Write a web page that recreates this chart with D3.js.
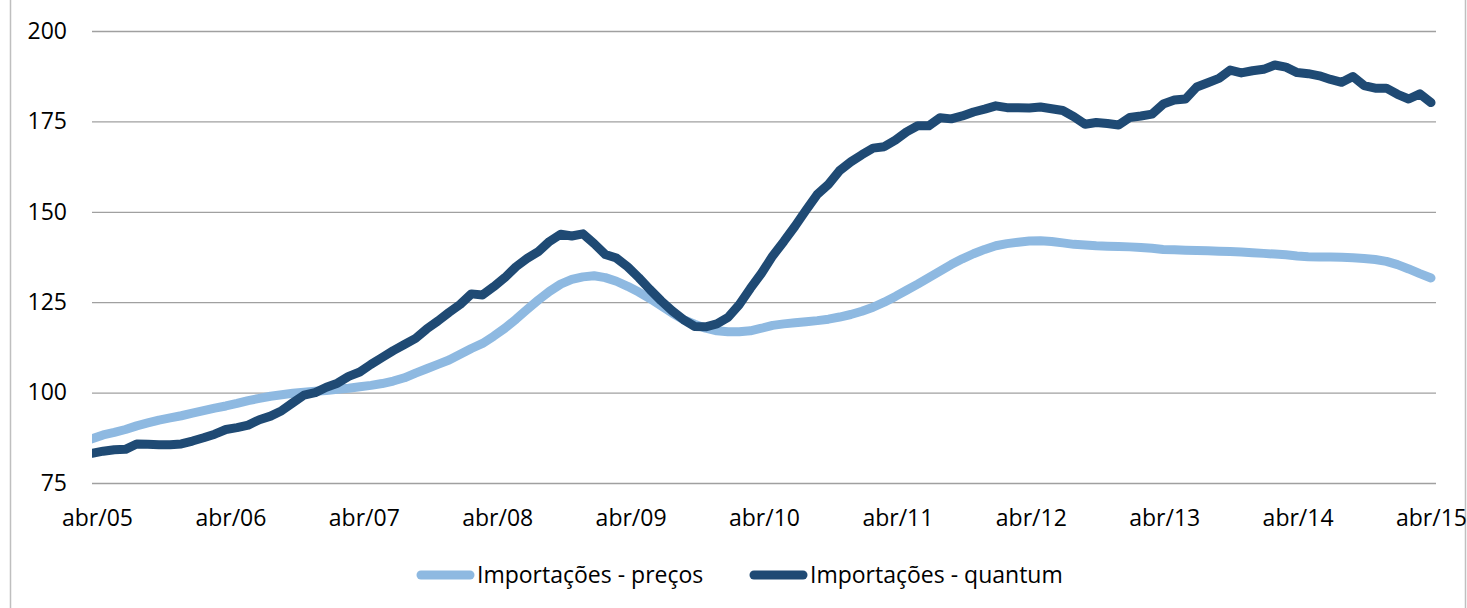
<!DOCTYPE html>
<html>
<head>
<meta charset="utf-8">
<script src="https://cdn.jsdelivr.net/npm/d3@7"></script>
<style>
    body { margin: 0; background: #fff; }
    svg text { font-family: "Open Sans", sans-serif; fill: #000; }
</style>
</head>
<body>
<svg id="chart" width="1467" height="608"></svg>
<script>
// monthly, abr/05 .. abr/15
const seriesNames = ['Importações - preços', 'Importações - quantum'];

const precos = [
    87.2, 88.3, 89.0, 89.8, 90.8, 91.6, 92.4, 93.0, 93.6, 94.3, 95.0, 95.7,
    96.3, 97.0, 97.8, 98.4, 99.0, 99.4, 99.8, 100.1, 100.4, 100.6, 100.9, 101.2,
    101.6, 102.0, 102.5, 103.2, 104.1, 105.4, 106.6, 107.8, 109.0, 110.6, 112.2, 113.6,
    115.6, 117.8, 120.3, 123.0, 125.6, 128.0, 130.0, 131.3, 132.0, 132.3, 131.8, 130.8,
    129.4, 127.8, 126.0, 124.0, 122.0, 120.2, 118.9, 117.8, 117.1, 116.8, 116.8, 117.1,
    117.8, 118.6, 119.0, 119.3, 119.6, 119.9, 120.3, 120.9, 121.6, 122.5, 123.6, 125.0,
    126.6, 128.3, 130.0, 131.8, 133.6, 135.4, 137.0, 138.4, 139.6, 140.6, 141.2, 141.6,
    141.9, 142.0, 141.8, 141.4, 141.0, 140.8, 140.6, 140.5, 140.4, 140.3, 140.1, 139.9,
    139.6, 139.5, 139.4, 139.3, 139.2, 139.1, 139.0, 138.9, 138.7, 138.5, 138.3, 138.1,
    137.8, 137.6, 137.5, 137.5, 137.4, 137.3, 137.1, 136.8, 136.3, 135.4, 134.2, 132.9,
    131.7
];

const quantum = [
    83.2, 83.8, 84.2, 84.3, 85.8, 85.7, 85.6, 85.6, 85.8, 86.6, 87.5, 88.5,
    89.8, 90.3, 91.0, 92.5, 93.5, 95.0, 97.2, 99.3, 100.0, 101.5, 102.6, 104.5,
    105.7, 107.8, 109.7, 111.6, 113.3, 115.0, 117.6, 119.8, 122.2, 124.4, 127.3, 127.0,
    129.3, 131.8, 134.8, 137.1, 139.0, 141.8, 143.8, 143.3, 143.9, 141.2, 138.2, 137.2,
    134.8, 131.8, 128.5, 125.4, 122.6, 120.2, 118.3, 118.2, 119.0, 120.8, 124.3, 128.8,
    133.0, 137.8, 141.8, 146.0, 150.5, 154.8, 157.6, 161.4, 163.8, 165.8, 167.6, 168.0,
    169.8, 172.1, 173.8, 173.8, 176.0, 175.7, 176.5, 177.6, 178.4, 179.3, 178.8, 178.8,
    178.7, 179.0, 178.5, 178.0, 176.3, 174.2, 174.7, 174.4, 174.0, 176.1, 176.5, 177.0,
    179.8, 180.9, 181.2, 184.5, 185.7, 186.9, 189.2, 188.4, 189.0, 189.4, 190.6, 190.0,
    188.5, 188.2, 187.6, 186.6, 185.8, 187.4, 184.9, 184.2, 184.2, 182.5, 181.2, 182.6,
    180.2
];

const xTickLabels = ['abr/05', 'abr/06', 'abr/07', 'abr/08', 'abr/09', 'abr/10',
    'abr/11', 'abr/12', 'abr/13', 'abr/14', 'abr/15'];
const yTicks = [75, 100, 125, 150, 175, 200];

const colors = ['#8eb9e1', '#1f4a74'];

const svg = d3.select('#chart');

const plot = {left: 92, right: 1436, top: 31, bottom: 483};

const x = d3.scaleLinear().domain([0, precos.length - 1]).range([plot.left, 1431]);
const y = d3.scaleLinear().domain([75, 200]).range([plot.bottom, plot.top]);

// outer chart border
svg.append('rect')
    .attr('x', 10.5).attr('y', -5)
    .attr('width', 1455).attr('height', 625)
    .attr('fill', 'none')
    .attr('stroke', '#bfbfbf')
    .attr('stroke-width', 1.5);

svg.append('clipPath').attr('id', 'plotclip')
    .append('rect')
    .attr('x', plot.left).attr('y', 0)
    .attr('width', plot.right - plot.left).attr('height', 600);

// gridlines + y labels
const yAxis = d3.axisLeft(y)
    .tickValues(yTicks)
    .tickSize(-(plot.right - plot.left))
    .tickPadding(25)
    .tickFormat(d3.format('d'));

const gy = svg.append('g')
    .attr('transform', `translate(${plot.left},0)`)
    .call(yAxis);
gy.select('.domain').remove();
gy.selectAll('.tick line').attr('stroke', '#a0a0a0').attr('stroke-width', 1.3);
gy.selectAll('.tick text')
    .attr('font-size', 23)
    .attr('fill', '#000')
    .attr('font-family', '"Open Sans", sans-serif');

const xAxis = d3.axisBottom(x)
    .tickValues(xTickLabels.map((d, i) => i * 12))
    .tickSize(0)
    .tickPadding(0)
    .tickFormat((d, i) => xTickLabels[i]);

const gx = svg.append('g')
    .attr('transform', `translate(0,${plot.bottom})`)
    .call(xAxis);
gx.select('.domain').remove();
// excel nudges the first labels a little to the right
gx.selectAll('.tick text')
    .attr('dy', null)
    .attr('y', 43)
    .attr('dx', (d, i) => 5 * (1 - i / (xTickLabels.length - 1)))
    .attr('font-size', 23)
    .attr('fill', '#000')
    .attr('font-family', '"Open Sans", sans-serif');

const line = d3.line()
    .x((d, i) => x(i))
    .y(d => y(d));

svg.append('g').attr('clip-path', 'url(#plotclip)')
    .selectAll('path.series')
    .data([precos, quantum])
    .join('path')
    .attr('class', 'series')
    .attr('d', line)
    .attr('fill', 'none')
    .attr('stroke', (d, i) => colors[i])
    .attr('stroke-width', 9)
    .attr('stroke-linejoin', 'round')
    .attr('stroke-linecap', 'round');

// legend
const legendPos = [{x: 421, tx: 477}, {x: 754, tx: 810}];
const legend = svg.append('g').selectAll('g')
    .data(seriesNames)
    .join('g');

legend.append('line')
    .attr('x1', (d, i) => legendPos[i].x)
    .attr('x2', (d, i) => legendPos[i].x + 49)
    .attr('y1', 575).attr('y2', 575)
    .attr('stroke', (d, i) => colors[i])
    .attr('stroke-width', 9)
    .attr('stroke-linecap', 'round');

legend.append('text')
    .attr('x', (d, i) => legendPos[i].tx)
    .attr('y', 583)
    .attr('font-size', 23)
    .text(d => d);
</script>
</body>
</html>
